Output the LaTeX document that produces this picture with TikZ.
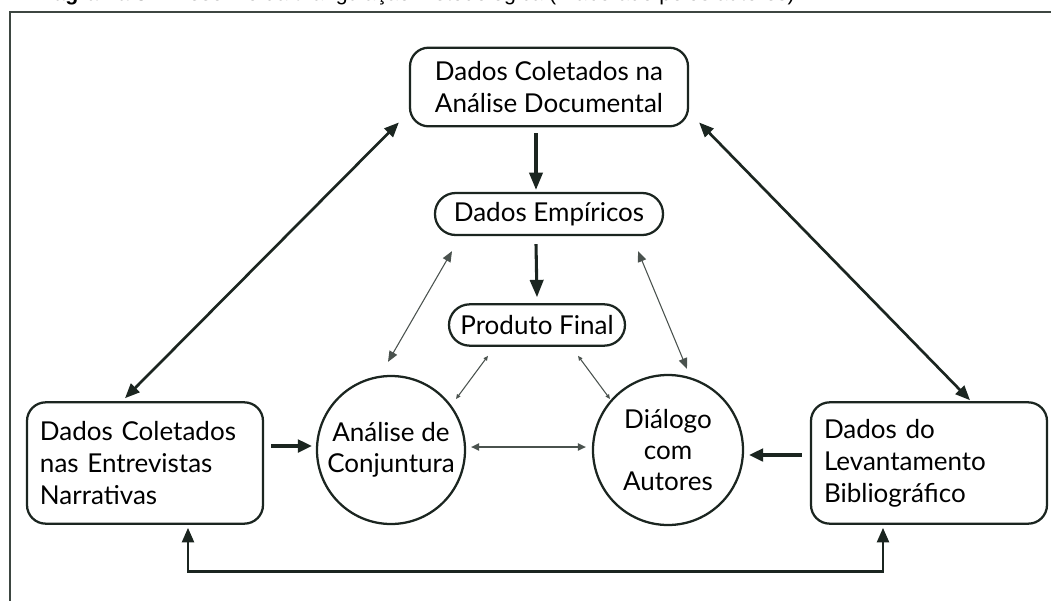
\documentclass[tikz,border=0pt]{standalone}
\usepackage{fontspec}
\setmainfont{Lato}
\newfontfamily\capfont{Liberation Sans}
\usetikzlibrary{arrows.meta,calc}

\definecolor{ink}{HTML}{1B2520}
\definecolor{thinink}{HTML}{4A524E}

\tikzset{
  databox/.style={draw=ink, line width=1.7pt, rounded corners=14pt,
    font=\fontsize{19.5}{24}\selectfont, text=black},
  pill/.style={draw=ink, line width=1.7pt, font=\fontsize{19.5}{24}\selectfont, text=black},
  sidebox/.style={databox, minimum width=177pt, minimum height=91pt,
    text width=157.5pt, inner xsep=9.75pt, align=left},
  roundnode/.style={circle, draw=ink, line width=1.7pt, minimum size=111pt,
    inner sep=0pt, align=center, font=\fontsize{19.5}{23.6}\selectfont, text=black},
  heavy/.style={draw=ink, line width=2.3pt,
    -{Triangle[length=13pt,width=10pt]}},
  link/.style={draw=ink, line width=2pt,
    {Triangle[length=11pt,width=9pt]}-{Triangle[length=11pt,width=9pt]}},
  feed/.style={draw=ink, line width=2.3pt,
    -{Triangle[length=10.5pt,width=9.5pt]}},
  fine/.style={draw=thinink, line width=0.8pt,
    {Triangle[length=8pt,width=6.5pt]}-{Triangle[length=8pt,width=6.5pt]}},
  tiny/.style={draw=thinink, line width=0.8pt,
    {Triangle[length=3.5pt,width=3pt]}-{Triangle[length=3.5pt,width=3pt]}},
  mid/.style={draw=thinink, line width=1pt,
    {Triangle[length=6pt,width=5.5pt]}-{Triangle[length=6pt,width=5.5pt]}},
}

\begin{document}
\begin{tikzpicture}[x=0.75pt, y=-0.75pt]
\useasboundingbox (0,0) rectangle (1051,601);

% caption line, trimmed at the top edge
\begin{scope}
  \clip (0,0) rectangle (1051,601);
  \node[anchor=base west, inner sep=0pt, font=\capfont\fontsize{16}{18}\selectfont]
    (cap) at (32,0.5) {\textbf{Diagrama 3} -- Desenho da triangulação metodológica (Elaborado pelos autores)};
\end{scope}

% frame: top and left edges
\draw[draw=ink!85, line width=1.5pt] (1051,12) -- (10,12) -- (10,601);

% nodes
\node[databox, minimum width=208.5pt, minimum height=59pt, align=center]
  (doc) at (549,87) {Dados Coletados na\\Análise Documental};
\node[pill, rounded corners=15.5pt, minimum width=171pt, minimum height=31.5pt]
  (emp) at (549,214) {Dados Empíricos};
\node[pill, rounded corners=15.5pt, minimum width=132pt, minimum height=31pt]
  (prod) at (537,325) {Produto Final};
\node[sidebox] (ent) at (145,463) {Dados Coletados\\nas Entrevistas\\Narrativas};
\node[sidebox] (bib) at (929,463) {Dados do\\Levantamento\\Bibliográfico};
\node[roundnode] (ana) at (391,450) {Análise de\\Conjuntura};
\node[roundnode, minimum size=112.5pt] (dia) at (668,450) {Diálogo\\com\\Autores};

% main vertical flow
\draw[heavy] ([shift={(-9.75pt,-4.5pt)}]doc.south) -- ([shift={(-9.75pt,1.5pt)}]emp.north);
\draw[heavy] ([shift={(-9.75pt,-6pt)}]emp.south) -- ([yshift=4.5pt]prod.north);

% long two-way links from the document data
\draw[link] ([shift={(-15pt,2.25pt)}]ent.north) -- ([shift={(-7.5pt,3.75pt)}]doc.south west);
\draw[link] ([shift={(7.5pt,3.75pt)}]doc.south east) -- ([shift={(30.75pt,0.75pt)}]bib.north);

% side inputs
\draw[feed] ([shift={(5.25pt,12.75pt)}]ent.east) -- ([shift={(-3pt,3pt)}]ana.west);
\draw[feed] ([shift={(-6pt,6pt)}]bib.west) -- ([shift={(3.75pt,-3.75pt)}]dia.east);

% bottom link between the side boxes
\draw[link] ([shift={(32.25pt,-2.25pt)}]ent.south) -- ++(0,44)
  -| ([shift={(-34.5pt,-2.25pt)}]bib.south);

% thin links in the centre
\draw[fine] ([shift={(-72.75pt,-11.25pt)}]emp.south) -- ([shift={(-2.25pt,9.75pt)}]ana.north);
\draw[fine] ([shift={(66.75pt,-11.25pt)}]emp.south) -- ([shift={(14.25pt,3.75pt)}]dia.north);
\draw[tiny] ([shift={(-36.75pt,-6.75pt)}]prod.south) -- ([shift={(48.75pt,38.25pt)}]ana.center);
\draw[tiny] ([shift={(30.75pt,-6.75pt)}]prod.south) -- ([shift={(-43.5pt,38.25pt)}]dia.center);
\draw[mid] ([shift={(3.75pt,2.25pt)}]ana.east) -- ([shift={(-4.5pt,2.25pt)}]dia.west);
\end{tikzpicture}
\end{document}
